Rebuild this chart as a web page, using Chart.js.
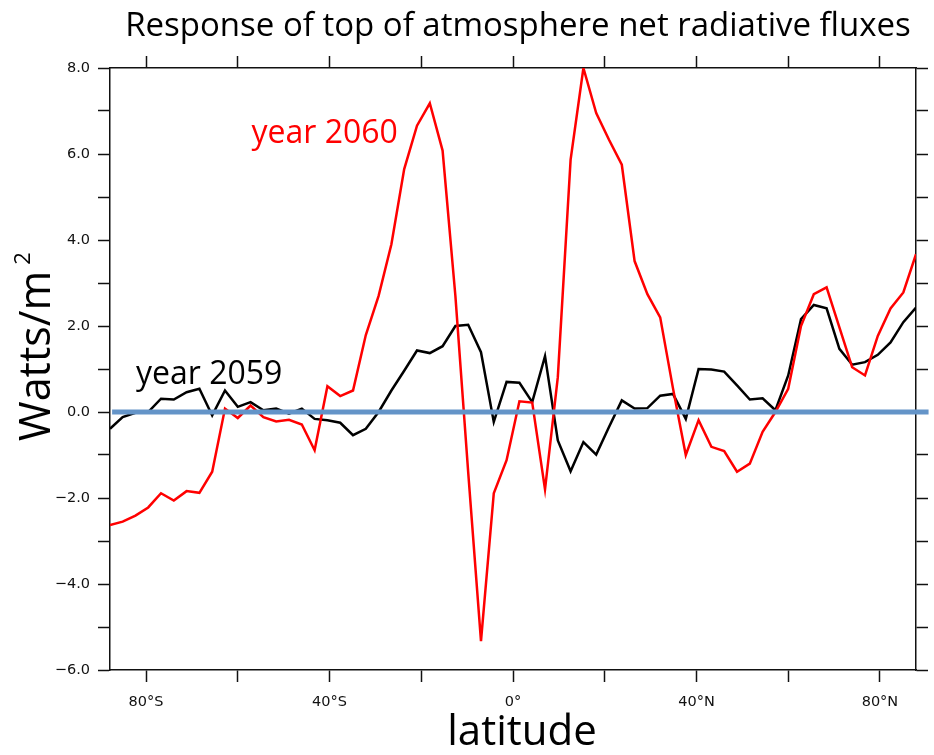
<!DOCTYPE html>
<html>
<head>
<meta charset="utf-8">
<title>TOA net radiative flux response</title>
<script src="https://cdn.jsdelivr.net/npm/chart.js@4.4.0/dist/chart.umd.min.js"></script>
<style>
  html, body { margin: 0; padding: 0; background: #fff; }
  #wrap { width: 934px; height: 755px; }
</style>
</head>
<body>
<div id="wrap"><canvas id="flux-chart" width="934" height="755"></canvas></div>
<script>
// Gaussian latitudes of the model grid, south to north
const latitudes = [
  -87.86, -85.10, -82.31, -79.53, -76.74, -73.95, -71.16, -68.37,
  -65.58, -62.79, -60.00, -57.21, -54.42, -51.63, -48.84, -46.04,
  -43.25, -40.46, -37.67, -34.88, -32.09, -29.30, -26.51, -23.72,
  -20.93, -18.14, -15.35, -12.56, -9.77, -6.98, -4.19, -1.40,
  1.40, 4.19, 6.98, 9.77, 12.56, 15.35, 18.14, 20.93,
  23.72, 26.51, 29.30, 32.09, 34.88, 37.67, 40.46, 43.25,
  46.04, 48.84, 51.63, 54.42, 57.21, 60.00, 62.79, 65.58,
  68.37, 71.16, 73.95, 76.74, 79.53, 82.31, 85.10, 87.86
];

// zonal mean change in TOA net flux (W/m^2)
const year2059 = [
  -0.39, -0.12, -0.02, 0.00, 0.31, 0.29, 0.46, 0.54,
  -0.08, 0.50, 0.12, 0.23, 0.04, 0.08, -0.04, 0.08,
  -0.16, -0.19, -0.25, -0.54, -0.39, 0.00, 0.50, 0.96,
  1.43, 1.37, 1.53, 2.00, 2.03, 1.39, -0.23, 0.70,
  0.68, 0.23, 1.30, -0.66, -1.38, -0.70, -0.99, -0.35,
  0.27, 0.08, 0.09, 0.38, 0.42, -0.16, 1.00, 0.99,
  0.94, 0.62, 0.29, 0.32, 0.04, 0.85, 2.16, 2.49,
  2.41, 1.47, 1.10, 1.16, 1.33, 1.62, 2.09, 2.43
];
const year2060 = [
  -2.63, -2.55, -2.41, -2.22, -1.89, -2.06, -1.84, -1.88,
  -1.39, 0.08, -0.14, 0.15, -0.12, -0.22, -0.18, -0.29,
  -0.89, 0.60, 0.37, 0.50, 1.79, 2.70, 3.90, 5.65,
  6.66, 7.18, 6.08, 2.70, -1.40, -5.33, -1.89, -1.12,
  0.25, 0.22, -1.80, 0.81, 5.87, 8.00, 6.95, 6.33,
  5.75, 3.51, 2.74, 2.20, 0.55, -1.00, -0.19, -0.81,
  -0.91, -1.39, -1.20, -0.46, 0.00, 0.54, 2.00, 2.74,
  2.90, 1.97, 1.04, 0.85, 1.77, 2.41, 2.78, 3.67
];

// reference line at zero
const zeroLineLat = [-87.4, 90.6];
const zeroLevel = 0;

const latTicks = [-80, -60, -40, -20, 0, 20, 40, 60, 80];
const fluxTicks = [-6, -5, -4, -3, -2, -1, 0, 1, 2, 3, 4, 5, 6, 7, 8];

const toPoints = (xs, ys) => xs.map((x, i) => ({ x: x, y: ys[i] }));

function latLabel(v) {
  if (v % 40 !== 0) return '';
  if (v === 0) return '0°';
  return v < 0 ? (-v) + '°S' : v + '°N';
}
function fluxLabel(v) {
  if (v % 2 !== 0) return '';
  return v.toFixed(1).replace('-', '\u2212');
}

const tickFont = { family: '"DejaVu Sans"', size: 14.5 };
const gridOpts = {
  drawOnChartArea: false,
  drawTicks: true,
  tickLength: 12,
  tickColor: '#111',
  tickWidth: 1.5
};
const borderOpts = { display: true, color: '#111', width: 1.5 };

function latAxis(position, showLabels, boxSize) {
  return {
    type: 'linear',
    position: position,
    min: -87.86,
    max: 87.86,
    grid: gridOpts,
    border: borderOpts,
    afterBuildTicks: s => { s.ticks = latTicks.map(v => ({ value: v })); },
    ticks: {
      display: showLabels,
      color: '#111',
      font: tickFont,
      padding: 12,
      maxRotation: 0,
      autoSkip: false,
      callback: v => latLabel(v)
    },
    afterFit: s => { s.height = boxSize; }
  };
}
function fluxAxis(position, showLabels, boxSize) {
  return {
    type: 'linear',
    position: position,
    min: -6,
    max: 8,
    grid: gridOpts,
    border: borderOpts,
    afterBuildTicks: s => { s.ticks = fluxTicks.map(v => ({ value: v })); },
    ticks: {
      display: showLabels,
      color: '#111',
      font: tickFont,
      padding: 8,
      autoSkip: false,
      callback: v => fluxLabel(v)
    },
    afterFit: s => { s.width = boxSize; }
  };
}

// title, axis titles and series labels
const chartText = {
  id: 'chartText',
  afterDraw(chart) {
    const { ctx, scales } = chart;
    const x = scales.x, y = scales.y;
    ctx.save();
    ctx.textBaseline = 'middle';

    ctx.fillStyle = '#000';
    ctx.textAlign = 'center';
    ctx.font = '33px "Open Sans"';
    ctx.fillText('Response of top of atmosphere net radiative fluxes', 518, 27);

    ctx.font = '42px "Open Sans"';
    ctx.fillText('latitude', 522, 733);

    // vertical axis title, with the exponent raised beside it
    ctx.save();
    ctx.translate(36, 441);
    ctx.rotate(-Math.PI / 2);
    ctx.textAlign = 'left';
    ctx.textBaseline = 'alphabetic';
    ctx.font = '43px "Open Sans"';
    ctx.fillText('Watts/m', 0, 14);
    const w = ctx.measureText('Watts/m').width;
    ctx.font = '22px "Open Sans"';
    ctx.fillText('2', w + 6, -6);
    ctx.restore();

    ctx.textAlign = 'left';
    ctx.font = '32px "Open Sans"';
    ctx.fillStyle = '#ff0000';
    ctx.fillText('year 2060', x.getPixelForValue(-57), y.getPixelForValue(6.46));
    ctx.fillStyle = '#000';
    ctx.fillText('year 2059', x.getPixelForValue(-82.2), y.getPixelForValue(0.87));
    ctx.restore();
  }
};

const ctx = document.getElementById('flux-chart').getContext('2d');
new Chart(ctx, {
  type: 'line',
  data: {
    datasets: [
      {
        label: 'zero',
        data: toPoints(zeroLineLat, zeroLineLat.map(() => zeroLevel)),
        borderColor: '#6494c8',
        borderWidth: 5,
        pointRadius: 0,
        clip: false,
        order: 0
      },
      {
        label: 'year 2060',
        data: toPoints(latitudes, year2060),
        borderColor: '#ff0000',
        borderWidth: 2.5,
        pointRadius: 0,
        tension: 0,
        order: 1
      },
      {
        label: 'year 2059',
        data: toPoints(latitudes, year2059),
        borderColor: '#000000',
        borderWidth: 2.5,
        pointRadius: 0,
        tension: 0,
        order: 2
      }
    ]
  },
  options: {
    responsive: false,
    animation: false,
    layout: { padding: 0 },
    plugins: {
      legend: { display: false },
      tooltip: { enabled: false },
      title: { display: false }
    },
    scales: {
      x: latAxis('bottom', true, 85),
      xTop: latAxis('top', false, 68),
      y: fluxAxis('left', true, 110),
      yRight: fluxAxis('right', false, 18)
    }
  },
  plugins: [chartText]
});
</script>
</body>
</html>
